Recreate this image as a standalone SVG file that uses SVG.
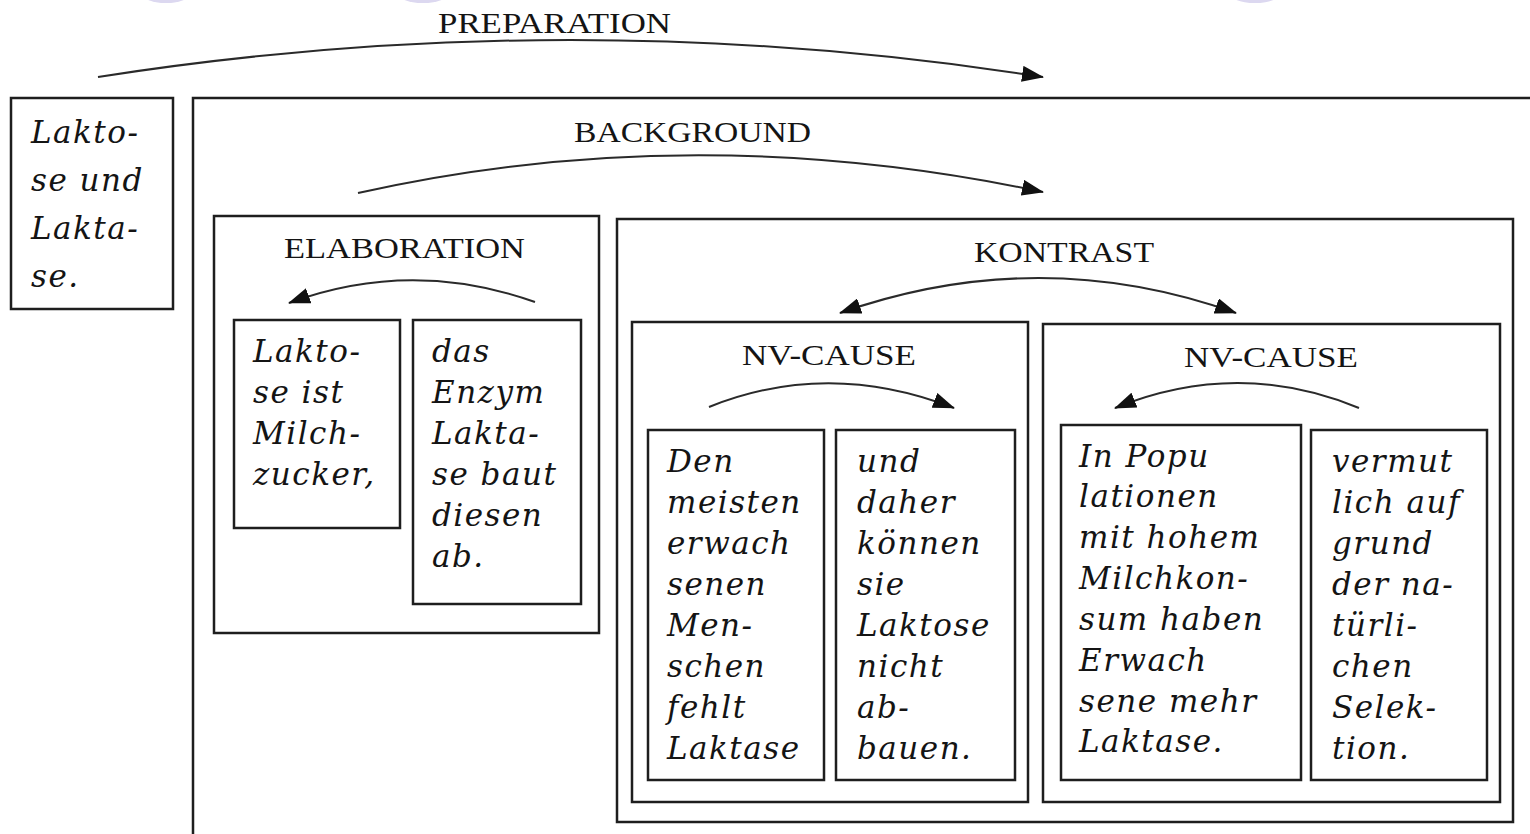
<svg xmlns="http://www.w3.org/2000/svg" width="1530" height="834" viewBox="0 0 1530 834">
<style>
  .box{fill:none;stroke:#1e1e1e;stroke-width:2.5}
  .arc{fill:none;stroke:#2a2a2a;stroke-width:2}
  .lbl{font-family:"Liberation Serif","Times New Roman",serif;font-size:29px;fill:#141414}
  .seg{font-family:"DejaVu Serif",serif;font-style:italic;font-size:31px;fill:#141414;letter-spacing:1.5px}
  .blob{fill:#dcd8f0}
</style>
<defs>
  <marker id="ah" viewBox="0 0 22 16" refX="21" refY="8" markerWidth="22" markerHeight="16" markerUnits="userSpaceOnUse" orient="auto-start-reverse">
    <path d="M0,0 L22,8 L0,16 Z" fill="#111"/>
  </marker>
</defs>
<rect width="1530" height="834" fill="#fff"/>
<g id="bg-blobs">
  <ellipse class="blob" cx="166" cy="-8" rx="26" ry="11"/>
  <ellipse class="blob" cx="423" cy="-8" rx="27" ry="11"/>
  <ellipse class="blob" cx="1255" cy="-8" rx="27" ry="11"/>
</g>
<g id="connectors">
  <path class="arc" d="M98,77 Q570,3 1043,77" marker-end="url(#ah)"/>
  <path class="arc" d="M358,193 Q692,118 1043,192" marker-end="url(#ah)"/>
  <path class="arc" d="M535,302 Q411,258 289,303" marker-end="url(#ah)"/>
  <path class="arc" d="M840,313 Q1039,243 1236,313" marker-start="url(#ah)" marker-end="url(#ah)"/>
  <path class="arc" d="M709,407 Q828,359 954,408" marker-end="url(#ah)"/>
  <path class="arc" d="M1359,408 Q1238,358 1115,408" marker-end="url(#ah)"/>
</g>
<g id="labels">
  <text class="lbl" x="438" y="33" textLength="233" lengthAdjust="spacingAndGlyphs">PREPARATION</text>
  <text class="lbl" x="574" y="142" textLength="237" lengthAdjust="spacingAndGlyphs">BACKGROUND</text>
  <text class="lbl" x="284" y="258" textLength="241" lengthAdjust="spacingAndGlyphs">ELABORATION</text>
  <text class="lbl" x="974" y="262" textLength="180" lengthAdjust="spacingAndGlyphs">KONTRAST</text>
  <text class="lbl" x="742" y="365" textLength="174" lengthAdjust="spacingAndGlyphs">NV-CAUSE</text>
  <text class="lbl" x="1184" y="367" textLength="174" lengthAdjust="spacingAndGlyphs">NV-CAUSE</text>
</g>
<g id="node-prep">
  <rect class="box" x="11" y="98" width="162" height="211"/>
  <text class="seg"><tspan x="31" y="143">Lakto-</tspan><tspan x="31" y="191">se und</tspan><tspan x="31" y="239">Lakta-</tspan><tspan x="31" y="287">se.</tspan></text>
</g>
<g id="node-main">
  <path class="box" d="M193,840 V98 H1535"/>
</g>
<g id="node-elab">
  <rect class="box" x="214" y="216" width="385" height="417"/>
</g>
<g id="node-e1">
  <rect class="box" x="234" y="320" width="166" height="208"/>
  <text class="seg"><tspan x="253" y="362">Lakto-</tspan><tspan x="253" y="403">se ist</tspan><tspan x="253" y="444">Milch-</tspan><tspan x="253" y="485">zucker,</tspan></text>
</g>
<g id="node-e2">
  <rect class="box" x="413" y="320" width="168" height="284"/>
  <text class="seg"><tspan x="432" y="362">das</tspan><tspan x="432" y="403">Enzym</tspan><tspan x="432" y="444">Lakta-</tspan><tspan x="432" y="485">se baut</tspan><tspan x="432" y="526">diesen</tspan><tspan x="432" y="567">ab.</tspan></text>
</g>
<g id="node-kontrast">
  <rect class="box" x="617" y="219" width="896" height="603"/>
</g>
<g id="node-nv1">
  <rect class="box" x="632" y="322" width="396" height="480"/>
</g>
<g id="node-n1">
  <rect class="box" x="648" y="430" width="176" height="350"/>
  <text class="seg"><tspan x="667" y="472">Den</tspan><tspan x="667" y="513">meisten</tspan><tspan x="667" y="554">erwach</tspan><tspan x="667" y="595">senen</tspan><tspan x="667" y="636">Men-</tspan><tspan x="667" y="677">schen</tspan><tspan x="667" y="718">fehlt</tspan><tspan x="667" y="759">Laktase</tspan></text>
</g>
<g id="node-n2">
  <rect class="box" x="836" y="430" width="179" height="350"/>
  <text class="seg"><tspan x="857" y="472">und</tspan><tspan x="857" y="513">daher</tspan><tspan x="857" y="554">können</tspan><tspan x="857" y="595">sie</tspan><tspan x="857" y="636">Laktose</tspan><tspan x="857" y="677">nicht</tspan><tspan x="857" y="718">ab-</tspan><tspan x="857" y="759">bauen.</tspan></text>
</g>
<g id="node-nv2">
  <rect class="box" x="1043" y="324" width="457" height="478"/>
</g>
<g id="node-n3">
  <rect class="box" x="1061" y="425" width="240" height="355"/>
  <text class="seg"><tspan x="1079" y="467">In Popu</tspan><tspan x="1079" y="507">lationen</tspan><tspan x="1079" y="548">mit hohem</tspan><tspan x="1079" y="589">Milchkon-</tspan><tspan x="1079" y="630">sum haben</tspan><tspan x="1079" y="671">Erwach</tspan><tspan x="1079" y="712">sene mehr</tspan><tspan x="1079" y="752">Laktase.</tspan></text>
</g>
<g id="node-n4">
  <rect class="box" x="1311" y="430" width="176" height="350"/>
  <text class="seg"><tspan x="1332" y="472">vermut</tspan><tspan x="1332" y="513">lich auf</tspan><tspan x="1332" y="554">grund</tspan><tspan x="1332" y="595">der na-</tspan><tspan x="1332" y="636">türli-</tspan><tspan x="1332" y="677">chen</tspan><tspan x="1332" y="718">Selek-</tspan><tspan x="1332" y="759">tion.</tspan></text>
</g>
</svg>
